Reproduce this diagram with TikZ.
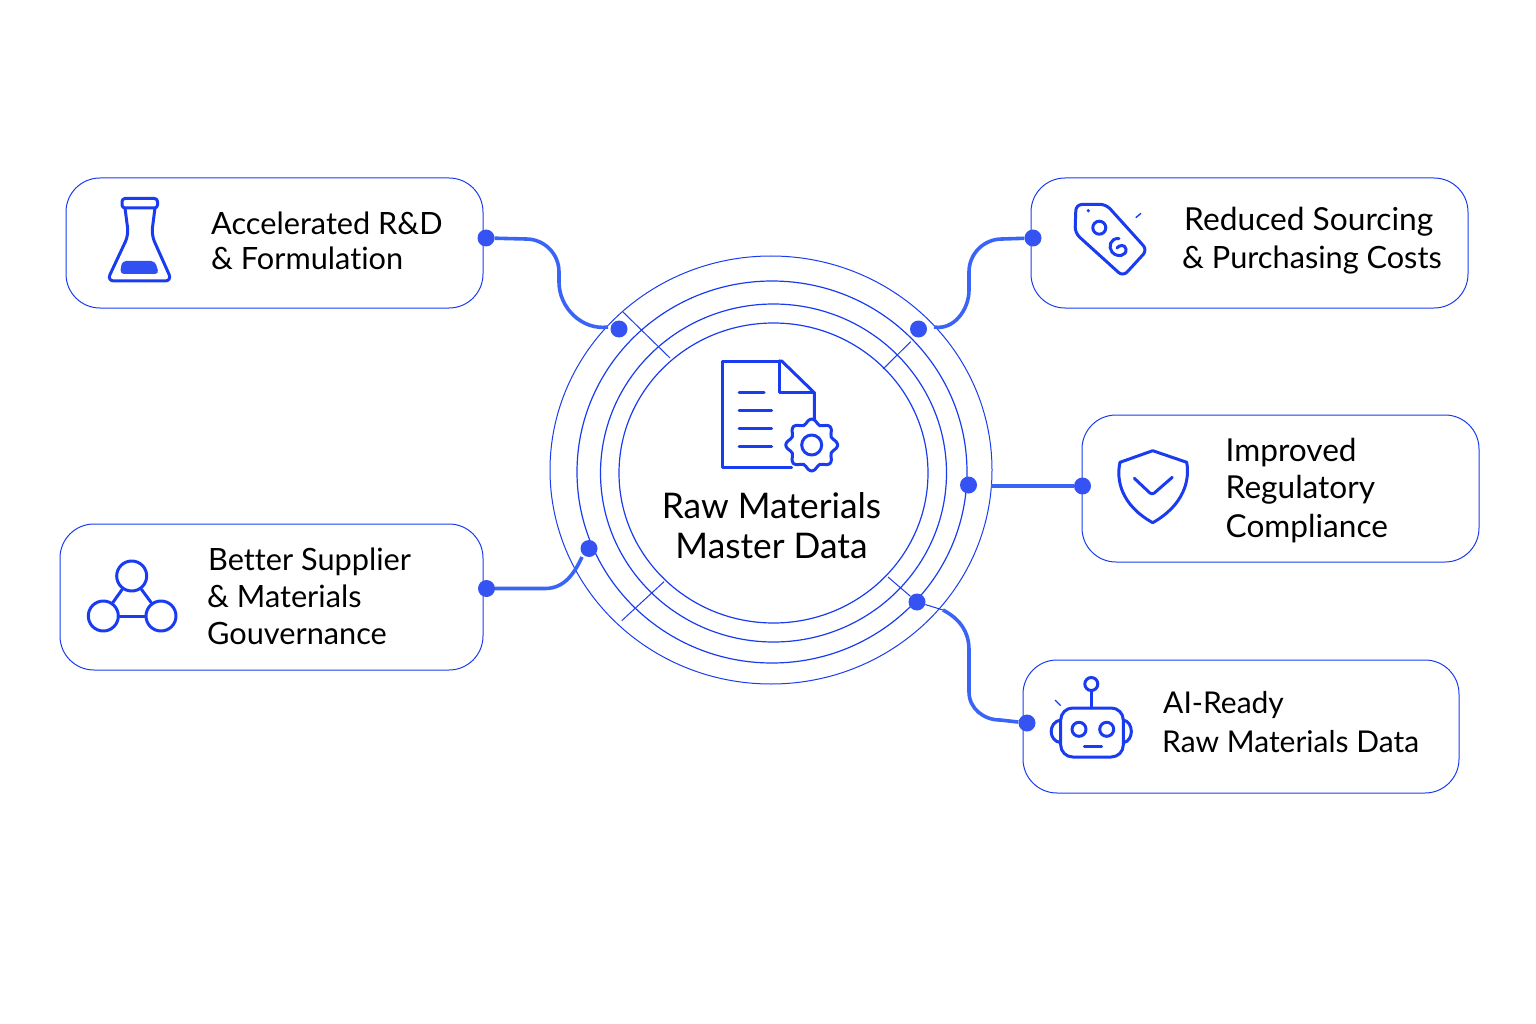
\documentclass[tikz,border=0pt]{standalone}
\usepackage{fontspec}
\setmainfont{Lato}[Ligatures=NoCommon]
\usetikzlibrary{positioning, calc}

\definecolor{rawblue}{RGB}{26,60,240}
\definecolor{linkblue}{RGB}{58,100,245}

\tikzset{
    card/.style={draw=rawblue, line width=1pt, rounded corners=34pt},
    ring/.style={draw=rawblue, line width=1.2pt},
    thinlink/.style={draw=rawblue, line width=1pt},
    link/.style={draw=linkblue, line width=3.6pt},
    dot/.style={circle, fill=rawblue!88!white, inner sep=0pt, minimum size=17pt},
    icon/.style={draw=rawblue, line width=3pt, line cap=round, line join=round},
    cardtext/.style={anchor=west, align=left, inner sep=0pt, text=black, font=\fontsize{30.7}{37}\selectfont},
    hubtext/.style={align=center, text=black, font=\fontsize{35.3}{40}\selectfont},
    netnode/.style={circle, icon, inner sep=0pt, minimum size=30pt},
}

\begin{document}
\begin{tikzpicture}[x=1pt, y=-1pt]

\useasboundingbox (0,0) rectangle (1536,1024);

% cards
\draw[card] (66,178) rectangle (483,308);
\draw[card] (1031,178) rectangle (1468,308);
\draw[card] (1082,415) rectangle (1479,562);
\draw[card] (60,524) rectangle (483,670);
\draw[card] (1023,660) rectangle (1459,793);

% rings
\draw[ring, line width=1pt] (771,470) ellipse (221 and 214);
\draw[ring] (772,472) ellipse (195 and 191);
\draw[ring] (773.5,473) ellipse (173 and 169);
\draw[ring] (773.5,473) ellipse (154.5 and 150);

% ticks across the rings
\coordinate (tickA1) at (622.7,311.7);
\coordinate (tickA2) at (670,358);
\coordinate (tickB1) at (910.7,341.7);
\coordinate (tickB2) at (883,369);
\coordinate (tickC1) at (664,581.7);
\coordinate (tickC2) at (621.7,620.7);
\coordinate (tickD1) at (888,577);
\draw[thinlink] (tickA1) -- (tickA2);
\draw[thinlink] (tickB1) -- (tickB2);
\draw[thinlink] (tickC1) -- (tickC2);

% dots on the rings
\node[dot] (ringA) at (619,329) {};
\node[dot] (ringB) at (918.5,329) {};
\node[dot] (ringC) at (968.5,485) {};
\node[dot] (ringD) at (589,548.5) {};
\node[dot] (ringE) at (917,602) {};

% dots on the cards
\node[dot] (cardA) at (486,238) {};
\node[dot] (cardB) at (1033,238) {};
\node[dot] (cardC) at (1082.5,486) {};
\node[dot] (cardD) at (486.5,588.5) {};
\node[dot] (cardE) at (1027,723) {};

% free ends near the rings
\coordinate (endA) at (608,327);
\coordinate (endB) at (934,327);
\coordinate (endC) at (991,486);
\coordinate (endD) at (582,557);
\coordinate (endE) at (943,610);

% connectors
\draw[link] (cardA) -- (526,239) to[out=0, in=90] (559,272) -- (559,282) to[out=-90, in=188] (endA);
\draw[link] (cardB) -- (1002,239) to[out=180, in=90] (969,272) -- (969,290) to[out=-90, in=-10] (endB);
\draw[link] (cardC) -- (endC);
\draw[link] (cardD) -- (545,588.5) to[out=0, in=-115] (endD);
\draw[thinlink] (tickD1) -- (ringE) -- (endE);
\draw[link] (endE) to[out=-28, in=90] (969,650) -- (969,692) to[out=-90, in=180] (1000,720) -- (cardE);

% hub icon, page
\draw[icon] (779.3,361) -- (722.3,361) -- (722.3,467.3) -- (791.7,467.3);
\draw[icon] (779.3,361) -- (781.7,361) -- (814.3,392.7) -- (814.3,420);
\draw[icon] (779.3,361) -- (779.3,392.7) -- (814.3,392.7);
\draw[icon] (739,392.7) -- (764,392.7);
\draw[icon] (739,410) -- (771.7,410);
\draw[icon] (739,428) -- (771.7,428);
\draw[icon] (739,446) -- (771.7,446);

% hub icon, gear
\draw[icon, fill=white] plot[smooth cycle, samples=48, domain=0:352.5] ({811.7+(23.5+2.5*cos(8*\x))*cos(\x)}, {445+(23.5+2.5*cos(8*\x))*sin(\x)});
\draw[icon] (811.7,445) circle (10);

% hub text
\node[hubtext] (hub) at (771.5,526) {Raw Materials\\Master Data};

% flask
\draw[icon, rounded corners=3pt] (122,198.5) rectangle (157.5,208);
\draw[icon, rounded corners=7pt] (125,208) -- (128.5,235) -- (107,281) -- (172,281) -- (151.5,235) -- (155,208);
\fill[rawblue!90!white, rounded corners=4pt] (122,261) -- (155,261) -- (159,274) -- (120,274) -- cycle;
\node[cardtext] (textA) at (211,241) {Accelerated R\&D\\[-2pt]\& Formulation};

% tag
\draw[icon, rounded corners=6pt] (1076,204.5) -- (1106,204.3) -- (1147.3,250) -- (1123,276.5) -- (1075,233) -- cycle;
\draw[icon] (1099.3,227.7) circle (6.5);
\fill[rawblue] (1088.3,210.7) circle (1.8);
\draw[thinlink, line width=1.4pt] (1135.7,217.7) -- (1141,213.3);
\draw[icon] (1119,238.5) .. controls (1110,238) and (1108,247) .. (1112,252) .. controls (1117,258) and (1127,256) .. (1126,249) .. controls (1125,244) and (1119,245) .. (1117,248);
\node[cardtext] (textB) at (1182,241) {\hspace*{2pt}\fontsize{31.7}{37}\selectfont Reduced Sourcing\\[1pt]\& Purchasing Costs};

% shield
\draw[icon] (1152.7,450.7) -- (1120,462.3) .. controls (1116,480) and (1121,505) .. (1152.7,522.7) .. controls (1184,505) and (1190,480) .. (1186.7,462.3) -- cycle;
\draw[icon, rounded corners=3pt] (1134.3,478.3) -- (1152,495) -- (1172.3,477.3);
\node[cardtext, font=\fontsize{31.6}{37}\selectfont] (textC) at (1225.5,490.5) {Improved\\[0pt]Regulatory\\[2pt]Compliance};

% network
\node[netnode] (netA) at (131.7,576) {};
\node[netnode] (netB) at (103.3,616) {};
\node[netnode] (netC) at (161,616) {};
\draw[icon] (netA) -- (netB);
\draw[icon] (netA) -- (netC);
\draw[icon] (netB) -- (netC);
\node[cardtext] (textD) at (207,596.5) {\hspace*{1pt}Better Supplier\\\& Materials\\Gouvernance};

% robot
\draw[icon, rounded corners=12pt] (1060.7,708) rectangle (1123.3,757);
\draw[icon] (1079,729.3) circle (7);
\draw[icon] (1106.7,729.3) circle (7);
\draw[icon] (1084.3,746.7) -- (1101.7,746.7);
\draw[icon] (1091.3,684) circle (6.5);
\draw[icon] (1091.3,691) -- (1091.3,708);
\draw[icon] (1060.7,720) .. controls (1048,722) and (1048,741) .. (1060.7,742.7);
\draw[icon] (1123.3,720) .. controls (1134,722) and (1134,741) .. (1123.3,742.7);
\draw[thinlink, line width=1.4pt] (1055,700) -- (1060.7,705.7);
\node[cardtext, font=\fontsize{30}{37}\selectfont] (textE) at (1162,722.5) {\hspace*{1pt}AI-Ready\\[2pt]Raw Materials Data};

\end{tikzpicture}
\end{document}
